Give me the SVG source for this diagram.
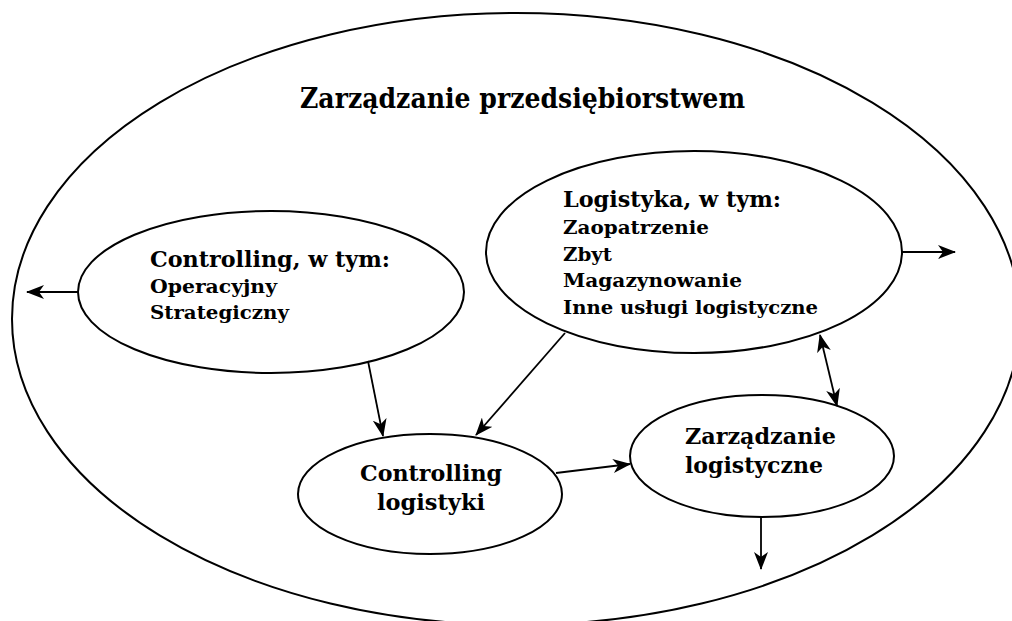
<svg xmlns="http://www.w3.org/2000/svg" width="1012" height="621" viewBox="0 0 1012 621">
<style>
.e{fill:none;stroke:#000;stroke-width:2}
.c{fill:none;stroke:#000;stroke-width:1.8}
text{font-family:"DejaVu Serif","Liberation Serif",serif;font-weight:bold;fill:#000}
.h{font-size:23px}
.s{font-size:19px}
.t{font-size:27px}
</style>
<defs>
<marker id="a" viewBox="0 0 18 14" refX="17" refY="7" markerWidth="18" markerHeight="14" markerUnits="userSpaceOnUse" orient="auto-start-reverse">
<path d="M0,0 L18,7 L0,14 L5,7 Z" fill="#000"/>
</marker>
</defs>
<g id="outer">
<ellipse class="e" cx="516" cy="319" rx="504" ry="306"/>
<text class="t" x="300" y="108" textLength="445" lengthAdjust="spacingAndGlyphs">Zarządzanie przedsiębiorstwem</text>
</g>
<g id="controlling">
<ellipse class="e" cx="271" cy="292" rx="193" ry="81"/>
<text class="h" x="150" y="267" textLength="240" lengthAdjust="spacingAndGlyphs">Controlling, w tym:</text>
<text class="s" x="150" y="293" textLength="127" lengthAdjust="spacingAndGlyphs">Operacyjny</text>
<text class="s" x="150" y="319" textLength="139" lengthAdjust="spacingAndGlyphs">Strategiczny</text>
</g>
<g id="logistyka">
<ellipse class="e" cx="694" cy="252" rx="208" ry="101"/>
<text class="h" x="563" y="207" textLength="218" lengthAdjust="spacingAndGlyphs">Logistyka, w tym:</text>
<text class="s" x="563" y="234" textLength="146" lengthAdjust="spacingAndGlyphs">Zaopatrzenie</text>
<text class="s" x="563" y="261" textLength="49" lengthAdjust="spacingAndGlyphs">Zbyt</text>
<text class="s" x="563" y="287" textLength="179" lengthAdjust="spacingAndGlyphs">Magazynowanie</text>
<text class="s" x="563" y="314" textLength="255" lengthAdjust="spacingAndGlyphs">Inne usługi logistyczne</text>
</g>
<g id="controlling-logistyki">
<ellipse class="e" cx="430" cy="494" rx="132" ry="60"/>
<text class="h" x="360" y="481" textLength="142" lengthAdjust="spacingAndGlyphs">Controlling</text>
<text class="h" x="377" y="510" textLength="108" lengthAdjust="spacingAndGlyphs">logistyki</text>
</g>
<g id="zarzadzanie-logistyczne">
<ellipse class="e" cx="762" cy="456" rx="132" ry="61"/>
<text class="h" x="685" y="444" textLength="151" lengthAdjust="spacingAndGlyphs">Zarządzanie</text>
<text class="h" x="685" y="473" textLength="138" lengthAdjust="spacingAndGlyphs">logistyczne</text>
</g>
<g id="connectors">
<line class="c" x1="78" y1="292" x2="27" y2="292" marker-end="url(#a)"/>
<line class="c" x1="902" y1="252" x2="955" y2="252" marker-end="url(#a)"/>
<line class="c" x1="368" y1="361" x2="383" y2="436" marker-end="url(#a)"/>
<line class="c" x1="565" y1="333" x2="476" y2="435" marker-end="url(#a)"/>
<line class="c" x1="556" y1="473" x2="630" y2="464" marker-end="url(#a)"/>
<line class="c" x1="820" y1="335" x2="837" y2="406" marker-start="url(#a)" marker-end="url(#a)"/>
<line class="c" x1="761" y1="517" x2="761" y2="569" marker-end="url(#a)"/>
</g>
</svg>
